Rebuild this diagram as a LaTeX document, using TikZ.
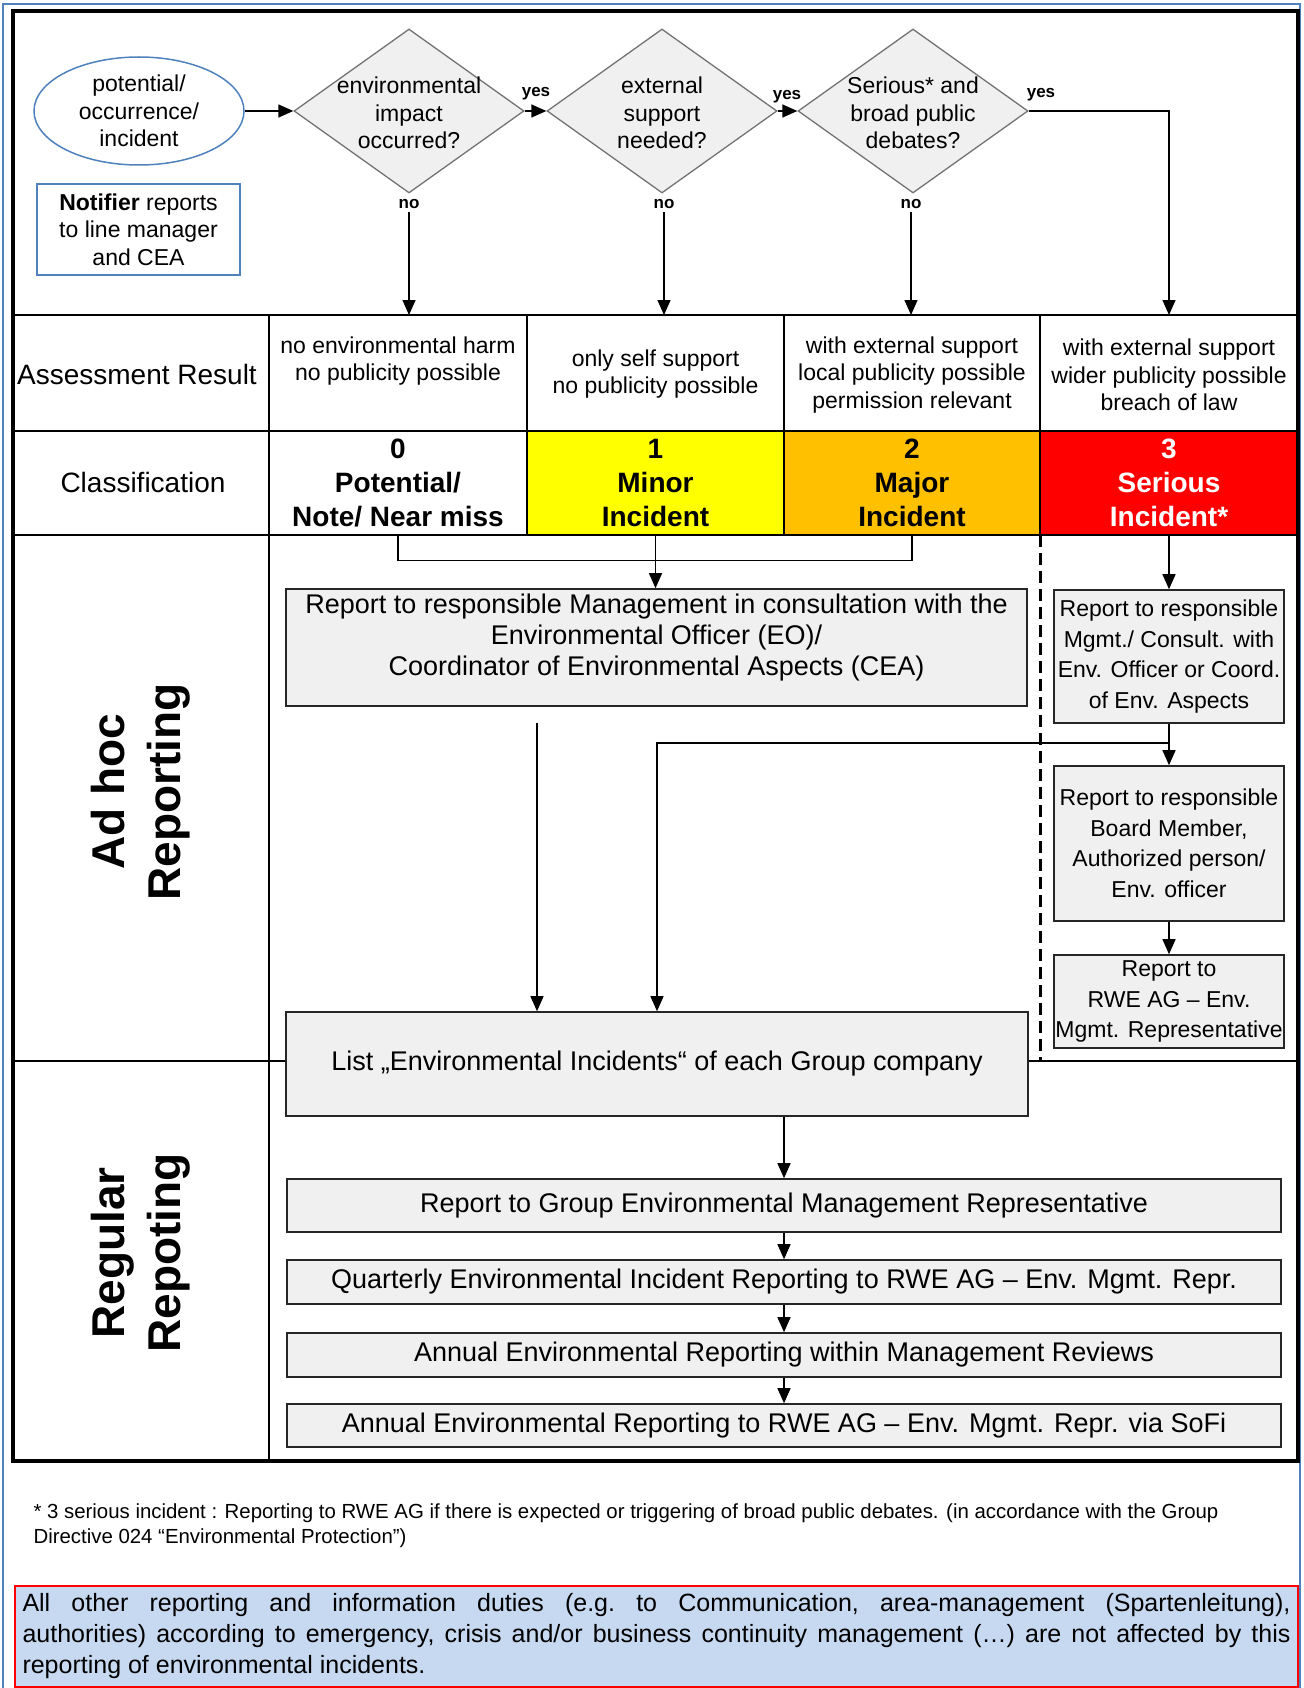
\documentclass[tikz,border=0pt]{standalone}
\usepackage{fontspec}
\setmainfont{Liberation Sans}
\usepackage{tikz}
\usetikzlibrary{shapes.geometric,arrows.meta}

\definecolor{frameblue}{HTML}{4F81BD}
\definecolor{boxgray}{HTML}{F0F0F0}
\definecolor{lvlyellow}{HTML}{FFFF00}
\definecolor{lvlorange}{HTML}{FFC000}
\definecolor{lvlred}{HTML}{FF0000}
\definecolor{infoblue}{HTML}{C6D9F1}

\tikzset{
  flow/.style={-{Triangle[length=15pt,width=13pt]}, line width=1.3pt},
  link/.style={line width=1.3pt},
  grid/.style={line width=2.4pt},
  decision/.style={diamond, draw=black!55, fill=boxgray, line width=1.3pt,
    minimum width=230pt, minimum height=164pt, inner sep=0pt},
  dtext/.style={align=center, font=\fontsize{23}{27.5}\selectfont, yshift=-2pt},
  answer/.style={font=\bfseries\fontsize{17}{20}\selectfont},
  start/.style={ellipse, draw=frameblue, line width=1.5pt, minimum width=210pt,
    minimum height=108pt, inner sep=0pt, align=center, font=\fontsize{23}{27.5}\selectfont},
  notebox/.style={draw=frameblue, line width=1.5pt, minimum width=203pt,
    minimum height=91pt, inner sep=0pt, align=center, font=\fontsize{23}{27.5}\selectfont},
  rowlabel/.style={font=\fontsize{28}{34}\selectfont},
  assess/.style={align=center, font=\fontsize{23}{27.5}\selectfont},
  level/.style={minimum width=258pt, minimum height=104pt, inner sep=0pt, align=center,
    font=\bfseries\fontsize{28}{34}\selectfont},
  process/.style={draw=black!85, fill=boxgray, line width=1.6pt, inner sep=0pt,
    align=center, font=\fontsize{27}{31}\selectfont},
  sidebox/.style={process, minimum width=230pt, font=\fontsize{23}{30.5}\selectfont},
  regbox/.style={process, minimum width=994pt},
  section/.style={rotate=90, align=center, font=\bfseries\fontsize{46}{56}\selectfont},
  infobox/.style={draw=lvlred, fill=infoblue, line width=1.3pt, minimum width=1283pt,
    minimum height=101pt, text width=1268pt, inner sep=0pt, align=justify,
    font=\fontsize{25}{31}\selectfont\frenchspacing},
}

\begin{document}
\begin{tikzpicture}[x=1pt, y=-1pt]
  \useasboundingbox (0,0) rectangle (1303,1688);
  \draw[frameblue, line width=2pt] (3,1688) -- (3,4) -- (1300,4) -- (1300,1688);

  % classification colours
  \node[level, fill=white] (c0) at (398,483) {0\\Potential/\\Note/ Near miss};
  \node[level, fill=lvlyellow] (c1) at (655.5,483) {1\\Minor\\Incident};
  \node[level, fill=lvlorange] (c2) at (912,483) {2\\Major\\Incident};
  \node[level, fill=lvlred, text=white] (c3) at (1169,483) {3\\Serious\\Incident*};

  % table grid
  \coordinate (rowA) at (0,315);
  \draw[line width=3.2pt] (13,11) rectangle (1298,1461);
  \draw[grid] (13,315) -- (1298,315);
  \draw[grid] (13,431) -- (1298,431);
  \draw[grid] (13,535) -- (1298,535);
  \draw[grid] (13,1061) -- (1298,1061);
  \draw[grid] (269,315) -- (269,1461);
  \draw[grid] (527,315) -- (527,535);
  \draw[grid] (784,315) -- (784,535);
  \draw[grid] (1040,315) -- (1040,535);
  \draw[line width=3pt, dash pattern=on 12pt off 6pt] (1040,535) -- (1040,1061);

  \node[rowlabel] (assesslbl) at (137,374) {Assessment Result};
  \node[rowlabel] (classlbl) at (143,482) {Classification};
  \node[section] (adhoc) at (141,792) {Ad hoc\\Reporting};
  \node[section] (regular) at (141,1253) {Regular\\Repoting};

  % decision chain
  \node[start] (occ) at (139,111) {potential/\\occurrence/\\incident};
  \node[notebox] (notifier) at (138.5,229.5) {\textbf{Notifier} reports\\to line manager\\and CEA};
  \node[decision, label={[dtext]center:environmental\\impact\\occurred?}] (d1) at (409,111) {};
  \node[decision, label={[dtext]center:external\\support\\needed?}] (d2) at (662,111) {};
  \node[decision, label={[dtext]center:Serious* and\\broad public\\debates?}] (d3) at (913,111) {};

  \node[answer] (y1) at (536,94) {yes};
  \node[answer] (y2) at (787,97) {yes};
  \node[answer] (y3) at (1041,95) {yes};
  \node[answer] (n1) at (409,204) {no};
  \node[answer] (n2) at (664,204) {no};
  \node[answer] (n3) at (911,204) {no};

  \draw[flow] (occ.east) -- (d1.west);
  \draw[flow] (d1.east) -- (d2.west);
  \draw[flow] (d2.east) -- (d3.west);
  \draw[flow] (d3.east) -| (c3 |- rowA);
  \draw[flow] (n1.south) -- (n1.south |- rowA);
  \draw[flow] (n2.south) -- (n2.south |- rowA);
  \draw[flow] (n3.south) -- (n3.south |- rowA);

  % assessment results
  \node[assess] (a0) at (398,361) {no environmental harm\\no publicity possible};
  \node[assess] (a1) at (655.5,374) {only self support\\no publicity possible};
  \node[assess] (a2) at (912,375) {with external support\\local publicity possible\\permission relevant};
  \node[assess] (a3) at (1169,375) {with external support\\wider publicity possible\\breach of law};

  % ad hoc reporting
  \node[process, minimum width=741pt, minimum height=117pt, text depth=26pt] (mgmt) at (656.5,647.5)
    {Report to responsible Management in consultation with the\\Environmental Officer (EO)/\\Coordinator of Environmental Aspects (CEA)};
  \node[sidebox, minimum height=133pt] (s1) at (1169,656.5)
    {Report to responsible\\Mgmt./ Consult. with\\Env. Officer or Coord.\\of Env. Aspects};
  \node[sidebox, minimum height=155pt] (s2) at (1169,843.5)
    {Report to responsible\\Board Member,\\Authorized person/\\Env. officer};
  \node[sidebox, minimum height=93pt] (s3) at (1169,1001.5)
    {Report to\\RWE AG -- Env.\\Mgmt. Representative};
  \node[process, minimum width=742pt, minimum height=104pt] (list) at (657,1064)
    {List „Environmental Incidents“ of each Group company};

  \draw[link] (c0.south) -- ++(0,25) -| (c2.south);
  \draw[flow] (c1.south) -- (c1.south |- mgmt.north);
  \draw[flow] (c3.south) -- (s1.north);
  \draw[flow] (s1.south) -- (s2.north);
  \draw[flow] (s2.south) -- (s3.north);
  \coordinate (tap) at (1169,743);
  \draw[flow] (tap) -| (list.north);
  \coordinate (mgmtout) at (537,723);
  \draw[flow] (mgmtout) -- (mgmtout |- list.north);

  % regular reporting
  \node[regbox, minimum height=53pt] (g1) at (784,1205.5)
    {Report to Group Environmental Management Representative};
  \node[regbox, minimum height=44pt] (g2) at (784,1282)
    {Quarterly Environmental Incident Reporting to RWE AG -- Env. Mgmt. Repr.};
  \node[regbox, minimum height=44pt] (g3) at (784,1355)
    {Annual Environmental Reporting within Management Reviews};
  \node[regbox, minimum height=43pt] (g4) at (784,1425.5)
    {Annual Environmental Reporting to RWE AG -- Env. Mgmt. Repr. via SoFi};

  \draw[flow] (list.south -| g1.north) -- (g1.north);
  \draw[flow] (g1.south) -- (g2.north);
  \draw[flow] (g2.south) -- (g3.north);
  \draw[flow] (g3.south) -- (g4.north);

  % notes
  \node[anchor=north west, align=left, font=\fontsize{20.4}{25}\selectfont] (foot) at (30,1500)
    {* 3 serious incident : Reporting to RWE AG if there is expected or triggering of broad public debates. (in accordance with the Group\\Directive 024 “Environmental Protection”)};
  \node[infobox] (info) at (656.5,1636.5)
    {All other reporting and information duties (e.g. to Communication, area-management (Spartenleitung),\linebreak
     authorities) according to emergency, crisis and/or business continuity management (…) are not affected by this\linebreak
     reporting of environmental incidents.};
\end{tikzpicture}
\end{document}
